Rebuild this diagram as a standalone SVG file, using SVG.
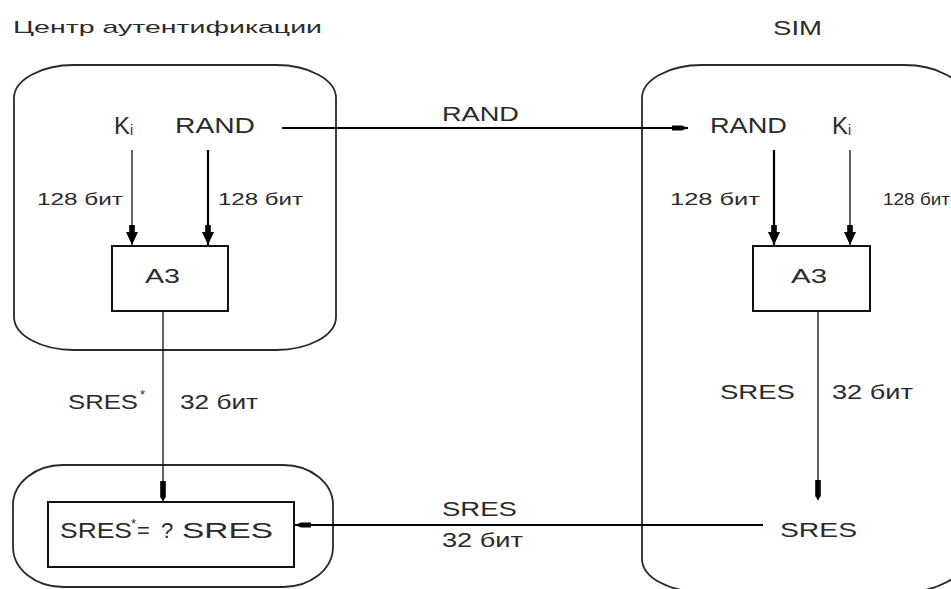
<svg xmlns="http://www.w3.org/2000/svg" width="951" height="589" viewBox="0 0 951 589">
<style>
  text { font-family: "Liberation Sans", Arial, sans-serif; fill: #2b2b2b; }
  .cont { fill: none; stroke: #2a2a2a; stroke-width: 1.8; }
  .box { fill: #fff; stroke: #111; stroke-width: 2; }
  .thick { fill: none; stroke: #000; stroke-width: 2.2; }
  .thin { fill: none; stroke: #111; stroke-width: 1.3; }
  .lbl { font-size: 20px; }
  .small { font-size: 17px; }
  .big { font-size: 22px; }
  .kk { font-size: 24px; }
</style>
<defs>
  <marker id="ahIn" markerUnits="userSpaceOnUse" markerWidth="20" markerHeight="12" refX="20" refY="6" orient="auto" viewBox="0 0 20 12">
    <path d="M0,3.2 L7,3.2 L7,0 L20,6 L7,12 L7,8.8 L0,8.8 Z" fill="#000"/>
  </marker>
  <marker id="ahBar" markerUnits="userSpaceOnUse" markerWidth="20" markerHeight="8" refX="20" refY="4" orient="auto" viewBox="0 0 20 8">
    <path d="M0,1.2 L16,1.2 L20,4 L16,6.8 L0,6.8 Z" fill="#000"/>
  </marker>
  <marker id="ahSmall" markerUnits="userSpaceOnUse" markerWidth="16" markerHeight="8" refX="16" refY="4" orient="auto" viewBox="0 0 16 8">
    <path d="M0,1.5 L10,1.5 L16,4 L10,6.5 L0,6.5 Z" fill="#000"/>
  </marker>
</defs>
<rect width="951" height="589" fill="#fff"/>

<g id="auth-center">
  <rect class="cont" x="14" y="65" width="322" height="285" rx="60" ry="33"/>
  <text x="13" y="33" font-size="17" textLength="309" lengthAdjust="spacingAndGlyphs">Центр аутентификации</text>
</g>

<g id="sim">
  <rect class="cont" x="642" y="65" width="322" height="527" rx="60" ry="33"/>
  <text x="773" y="35" font-size="20" textLength="49" lengthAdjust="spacingAndGlyphs">SIM</text>
</g>

<g id="compare-container">
  <rect class="cont" x="13" y="465" width="320" height="122" rx="50" ry="40"/>
</g>

<g id="ki-left">
  <text class="kk" x="114" y="134">K<tspan font-size="14" dy="1">i</tspan></text>
</g>
<g id="rand-left">
  <text class="big" x="175" y="133" textLength="80" lengthAdjust="spacingAndGlyphs">RAND</text>
</g>
<g id="a3-left">
  <rect class="box" x="112" y="246" width="116" height="65"/>
  <text x="145" y="283" font-size="21" textLength="35" lengthAdjust="spacingAndGlyphs">A3</text>
</g>
<g id="compare">
  <rect class="box" x="48" y="502" width="246" height="65"/>
  <text x="60" y="538" font-size="22"><tspan textLength="72" lengthAdjust="spacingAndGlyphs">SRES</tspan><tspan x="131" y="528" font-size="13">*</tspan><tspan x="137" y="538">=</tspan><tspan x="161" y="538">?</tspan><tspan x="182" y="538" textLength="91" lengthAdjust="spacingAndGlyphs">SRES</tspan></text>
</g>

<g id="rand-right">
  <text class="big" x="710" y="133" textLength="77" lengthAdjust="spacingAndGlyphs">RAND</text>
</g>
<g id="ki-right">
  <text class="kk" x="832" y="134">K<tspan font-size="14" dy="1">i</tspan></text>
</g>
<g id="a3-right">
  <rect class="box" x="753" y="246" width="117" height="65"/>
  <text x="791" y="283" font-size="21" textLength="36" lengthAdjust="spacingAndGlyphs">A3</text>
</g>
<g id="sres-right">
  <text x="780" y="537" font-size="21" textLength="77" lengthAdjust="spacingAndGlyphs">SRES</text>
</g>

<g id="connectors">
  <line class="thick" x1="282" y1="128" x2="688" y2="128" marker-end="url(#ahSmall)"/>
  <line class="thin" x1="132" y1="150" x2="132" y2="245" marker-end="url(#ahIn)"/>
  <line class="thick" x1="208" y1="150" x2="208" y2="245" marker-end="url(#ahIn)"/>
  <line class="thick" x1="774" y1="150" x2="774" y2="245" marker-end="url(#ahIn)"/>
  <line class="thin" x1="850" y1="150" x2="850" y2="245" marker-end="url(#ahIn)"/>
  <line class="thin" x1="163" y1="311" x2="163" y2="501" marker-end="url(#ahBar)"/>
  <line class="thin" x1="818" y1="311" x2="818" y2="500" marker-end="url(#ahBar)"/>
  <line class="thick" x1="763" y1="525" x2="295" y2="525" marker-end="url(#ahSmall)"/>
</g>

<g id="labels">
  <text class="small" x="37" y="205" textLength="86" lengthAdjust="spacingAndGlyphs">128 бит</text>
  <text class="small" x="218" y="205" textLength="85" lengthAdjust="spacingAndGlyphs">128 бит</text>
  <text class="small" x="670" y="205" textLength="90" lengthAdjust="spacingAndGlyphs">128 бит</text>
  <text class="small" x="883" y="205" textLength="67" lengthAdjust="spacingAndGlyphs">128 бит</text>
  <text class="lbl" x="442" y="121" textLength="77" lengthAdjust="spacingAndGlyphs">RAND</text>
  <text class="lbl" x="68" y="409" textLength="70" lengthAdjust="spacingAndGlyphs">SRES</text>
  <text x="140" y="399" font-size="13">*</text>
  <text class="lbl" x="180" y="409" textLength="78" lengthAdjust="spacingAndGlyphs">32 бит</text>
  <text class="lbl" x="720" y="399" textLength="75" lengthAdjust="spacingAndGlyphs">SRES</text>
  <text class="lbl" x="832" y="399" textLength="81" lengthAdjust="spacingAndGlyphs">32 бит</text>
  <text class="lbl" x="442" y="516" textLength="75" lengthAdjust="spacingAndGlyphs">SRES</text>
  <text class="lbl" x="442" y="547" textLength="81" lengthAdjust="spacingAndGlyphs">32 бит</text>
</g>
</svg>
